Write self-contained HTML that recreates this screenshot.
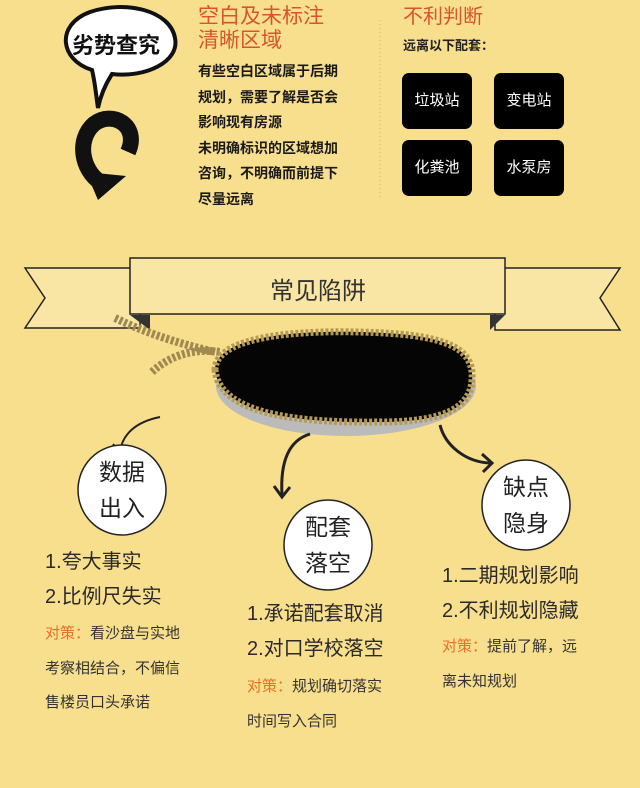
<!DOCTYPE html>
<html><head><meta charset="utf-8"><style>
html,body{margin:0;padding:0}
body{width:640px;height:788px;background:#f8df8e;position:relative;overflow:hidden;font-family:"Liberation Sans","Noto Sans CJK SC",sans-serif;color:#222}
.a{position:absolute;white-space:nowrap}
.h{color:#d6552b;font-size:21px;line-height:24px}
.b{font-size:14px;font-weight:bold;line-height:25.5px;color:#1a1a1a}
.box{position:absolute;width:70px;height:56px;background:#000;border-radius:7px;color:#fff;font-size:15px;text-align:center;line-height:56px}
.big{font-size:20px;line-height:35px;color:#2a2a2a}
.s{font-size:15px;line-height:34.5px;color:#333}
.o{color:#e8702a}
.ct{font-size:23px;line-height:36px;text-align:center;color:#222}
</style></head><body>
<svg class="a" style="left:0;top:0" width="640" height="788">
 <path d="M92,70 C60,60 55,25 90,12 C125,0 170,10 175,38 C180,62 145,78 112,74 C105,85 100,98 98,108 C96,95 95,82 92,70 Z" fill="#fff" stroke="#111" stroke-width="4"/>
 <path d="M128,152 C140,125 112,110 94,124 C76,140 82,170 100,182" fill="none" stroke="#111" stroke-width="16"/>
 <path d="M86,172 L126,176 L98,200 Z" fill="#111"/>
 <line x1="380" y1="20" x2="380" y2="200" stroke="#c9b56a" stroke-dasharray="1,3"/>
 <path d="M25,268 L140,268 L140,328 L25,328 L45,298 Z" fill="#f9e6a4" stroke="#222" stroke-width="1.5"/>
 <path d="M620,268 L495,268 L495,330 L620,330 L600,298 Z" fill="#f9e6a4" stroke="#222" stroke-width="1.5"/>
 <path d="M130,315 L150,330 L150,315 Z M505,315 L490,330 L490,315 Z" fill="#333"/>
 <rect x="130" y="258" width="375" height="56" fill="#f9e6a4" stroke="#222" stroke-width="1.5"/>
 <path d="M115,318 C150,335 185,345 215,352" stroke="#a08850" stroke-width="8" fill="none" stroke-dasharray="3,2"/>
 <path d="M152,372 C170,355 195,348 220,352" stroke="#a08850" stroke-width="8" fill="none" stroke-dasharray="3,2"/>
 <ellipse cx="346" cy="386" rx="130" ry="50" fill="#bbb"/>
 <path d="M215,370 C215,340 280,330 360,332 C440,334 475,345 472,380 C470,410 440,422 380,422 C300,423 220,415 215,370 Z" fill="#050505" stroke="#b59a55" stroke-width="7" stroke-dasharray="3,2"/>
 <path d="M160,417 C135,422 122,435 120,452" fill="none" stroke="#222" stroke-width="2"/>
 <path d="M113,444 L120,453 L127,445" fill="none" stroke="#222" stroke-width="2"/>
 <path d="M310,434 C290,440 280,460 282,495" fill="none" stroke="#222" stroke-width="3"/>
 <path d="M274,486 L282,497 L290,487" fill="none" stroke="#222" stroke-width="3"/>
 <path d="M440,425 C445,445 465,462 490,463" fill="none" stroke="#222" stroke-width="3"/>
 <path d="M482,454 L492,463 L483,472" fill="none" stroke="#222" stroke-width="3"/>
 <ellipse cx="122" cy="490" rx="44" ry="45" fill="#fff" stroke="#222" stroke-width="1.5"/>
 <ellipse cx="328" cy="545" rx="44" ry="45" fill="#fff" stroke="#222" stroke-width="1.5"/>
 <ellipse cx="526" cy="505" rx="44" ry="45" fill="#fff" stroke="#222" stroke-width="1.5"/>
</svg>
<div class="a" style="left:72px;top:28px;font-size:22px;font-weight:bold;color:#111">劣势查究</div>
<div class="a h" style="left:198px;top:5px">空白及未标注<br>清晰区域</div>
<div class="a b" style="left:198px;top:59px">有些空白区域属于后期<br>规划，需要了解是否会<br>影响现有房源<br>未明确标识的区域想加<br>咨询，不明确而前提下<br>尽量远离</div>
<div class="a h" style="left:403px;top:5px;font-size:20px">不利判断</div>
<div class="a" style="left:403px;top:35px;font-size:13px;font-weight:bold">远离以下配套：</div>
<div class="box" style="left:402px;top:73px">垃圾站</div>
<div class="box" style="left:494px;top:73px">变电站</div>
<div class="box" style="left:402px;top:140px">化粪池</div>
<div class="box" style="left:494px;top:140px">水泵房</div>
<div class="a" style="left:270px;top:271px;font-size:24px;color:#333">常见陷阱</div>
<div class="a ct" style="left:78px;top:454px;width:88px">数据<br>出入</div>
<div class="a ct" style="left:284px;top:509px;width:88px">配套<br>落空</div>
<div class="a ct" style="left:482px;top:469px;width:88px">缺点<br>隐身</div>
<div class="a big" style="left:45px;top:545px">1.夸大事实<br>2.比例尺失实</div>
<div class="a s" style="left:45px;top:617px"><span class="o">对策：</span>看沙盘与实地<br>考察相结合，不偏信<br>售楼员口头承诺</div>
<div class="a big" style="left:247px;top:597px">1.承诺配套取消<br>2.对口学校落空</div>
<div class="a s" style="left:247px;top:670px"><span class="o">对策：</span>规划确切落实<br>时间写入合同</div>
<div class="a big" style="left:442px;top:559px">1.二期规划影响<br>2.不利规划隐藏</div>
<div class="a s" style="left:442px;top:630px"><span class="o">对策：</span>提前了解，远<br>离未知规划</div>
</body></html>
